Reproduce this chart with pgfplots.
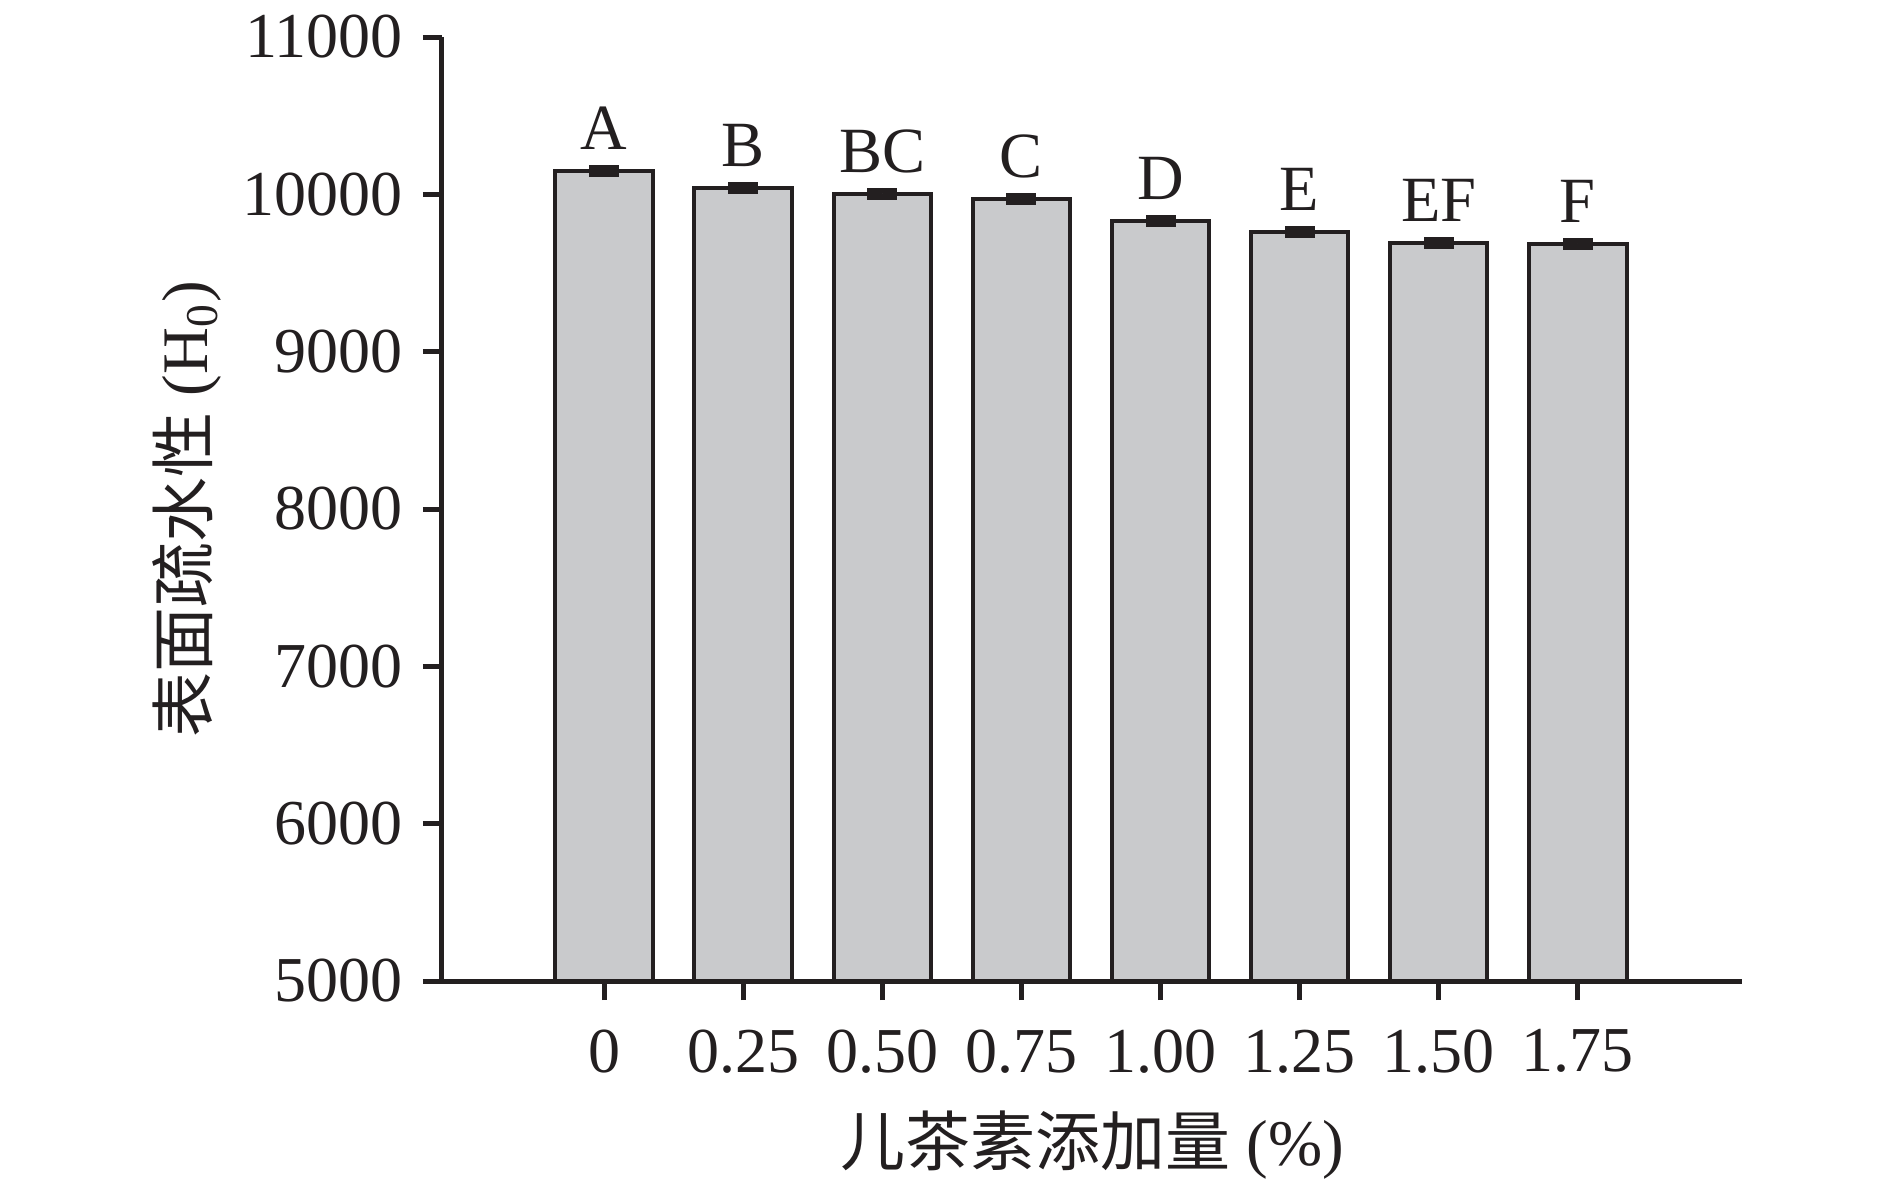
\documentclass[border=0pt]{standalone}
\usepackage{pgfplots}
\usepackage{pgfplotstable}
\pgfplotsset{compat=1.18}
\usepackage{fontspec}
\setmainfont{Liberation Serif}
\newfontfamily\cjk{Noto Sans CJK SC}
\definecolor{ink}{HTML}{231F20}
\definecolor{barfill}{HTML}{C9CACC}
\pgfplotstableread{
x y err lab
0 10147 38 A
1 10038 38 B
2 10005 38 BC
3 9971 38 C
4 9828 38 D
5 9758 38 E
6 9690 38 EF
7 9686 38 F
}\data
\begin{document}
\begin{tikzpicture}
\path[use as bounding box] (-88.4pt,-40.6pt) rectangle (289.6pt,196.2pt);
\begin{axis}[
  at={(0,0)}, anchor=south west,
  scale only axis, width=260pt, height=188.8pt,
  xmin=-1.165, xmax=8.18, ymin=5000, ymax=11000,
  axis x line*=bottom, axis y line*=left,
  axis line style={ink, line width=1pt},
  every tick/.style={ink, line width=1pt},
  tick align=outside, major tick length=3.8pt,
  xtick={0,...,7},
  xticklabels={0,0.25,0.50,0.75,1.00,1.25,1.50,1.75},
  ytick={5000,6000,...,11000},
  scaled y ticks=false,
  yticklabel={\pgfmathprintnumber[fixed, precision=0, set thousands separator={}]{\tick}},
  /pgf/number format/assume math mode=true,
  tick label style={font=\fontsize{12.8}{14}\selectfont, text=ink},
  yticklabel style={xshift=-0.5pt},
  xticklabel style={yshift=-2.4pt},
  every axis x label/.style={at={(axis description cs:0.5,0)}, yshift=-32.8pt, anchor=center},
  every axis y label/.style={at={(axis description cs:0,0.5)}, xshift=-51pt, rotate=90, anchor=center},
  label style={font=\fontsize{13}{15}\selectfont, text=ink},
  xlabel={{\cjk 儿茶素添加量} (\%)},
  ylabel={{\cjk 表面疏水性} (H\textsubscript{0})},
  clip=false,
]
\addplot[ybar, bar width=0.7, fill=barfill, draw=ink, line width=0.8pt,
  nodes near coords, point meta=explicit symbolic,
  every node near coord/.style={font=\fontsize{12.9}{15}\selectfont, text=ink, anchor=base, inner sep=0pt, yshift=4.3pt},
  error bars/.cd, y dir=both, y explicit,
  error bar style={line width=6pt, draw=ink}, error mark=none]
  table[x=x, y=y, y error=err, meta=lab] {\data};
\end{axis}
\draw[ink, line width=1pt] (0.5pt,0) -- (-3.8pt,0);
\end{tikzpicture}
\end{document}
